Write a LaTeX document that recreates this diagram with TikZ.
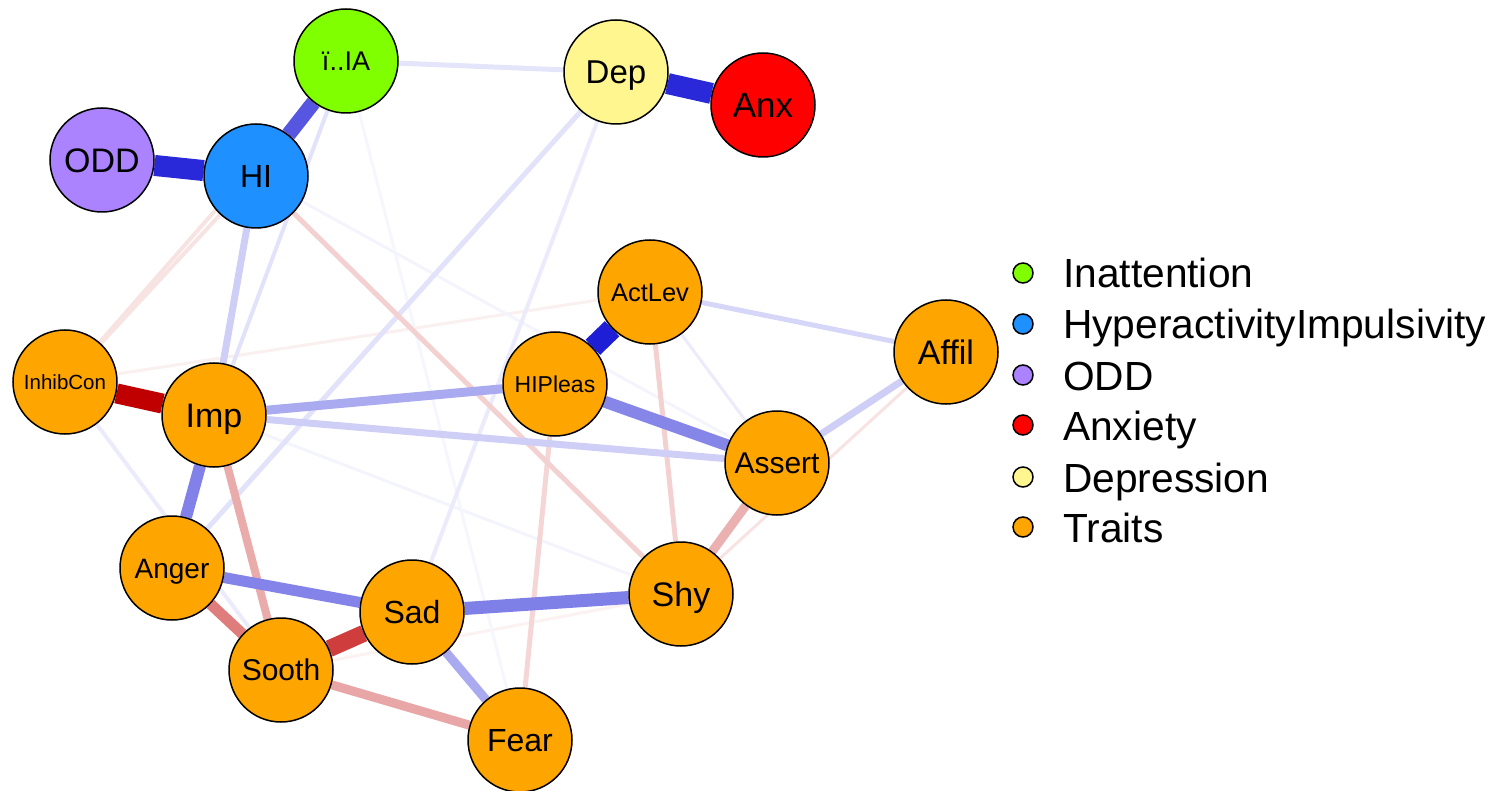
\documentclass[tikz,border=0pt]{standalone}
\usepackage{fontspec}
\setmainfont{Liberation Sans}
\usepackage{tikz}
\usetikzlibrary{shapes,backgrounds}
\usepackage{xcolor}
\definecolor{posblue}{RGB}{30,30,215}
\definecolor{negred}{RGB}{192,0,0}
\definecolor{iagreen}{RGB}{128,255,0}
\definecolor{hiblue}{RGB}{30,144,255}
\definecolor{oddpurple}{RGB}{171,130,255}
\definecolor{anxred}{RGB}{255,0,0}
\definecolor{depyellow}{RGB}{255,246,143}
\definecolor{traitorange}{RGB}{255,165,0}
\newcommand{\fs}[1]{\fontsize{#1}{#1}\selectfont}
\tikzstyle{var} = [circle, draw=black, line width=1.5pt, minimum size=104pt, inner sep=0pt, text depth=0pt]
\tikzstyle{trait} = [var, fill=traitorange]
\tikzstyle{key} = [circle, draw=black, line width=1.5pt, minimum size=20pt, inner sep=0pt]
\tikzstyle{keytext} = [anchor=base west, inner sep=0pt, font=\fs{40.7}]

\begin{document}
\begin{tikzpicture}[x=1pt, y=-1pt]
    \useasboundingbox (0,0) rectangle (1496,791);

    % Symptom nodes
    \node[var, fill=iagreen, font=\fs{27}, text height=19.5pt] (IA) at (346,61) {ï..IA};
    \node[var, fill=oddpurple, font=\fs{34}, text height=24.5pt] (ODD) at (102,160) {ODD};
    \node[var, fill=hiblue, font=\fs{32}, text height=23pt] (HI) at (256,176) {HI};
    \node[var, fill=depyellow, font=\fs{33}, text height=23.5pt] (Dep) at (616,72) {Dep};
    \node[var, fill=anxred, font=\fs{35}, text height=25pt] (Anx) at (763,105) {Anx};

    % Trait nodes
    \node[trait, font=\fs{25.5}, text height=18.3pt] (ActLev) at (650,292) {ActLev};
    \node[trait, font=\fs{23}, text height=16.5pt] (HIPleas) at (555,384) {HIPleas};
    \node[trait, font=\fs{34}, text height=24.5pt] (Affil) at (946,352) {Affil};
    \node[trait, font=\fs{20.5}, text height=14.7pt] (InhibCon) at (65,382) {InhibCon};
    \node[trait, font=\fs{34}, text height=24.5pt] (Imp) at (214,415) {Imp};
    \node[trait, font=\fs{30}, text height=21.5pt] (Assert) at (777,463) {Assert};
    \node[trait, font=\fs{28}, text height=20pt] (Anger) at (172,568) {Anger};
    \node[trait, font=\fs{30}, text height=21.5pt] (Sooth) at (281,670) {Sooth};
    \node[trait, font=\fs{32}, text height=23pt] (Sad) at (412,612) {Sad};
    \node[trait, font=\fs{34}, text height=24.5pt] (Shy) at (681,594) {Shy};
    \node[trait, font=\fs{32}, text height=23pt] (Fear) at (520,740) {Fear};

    % Edges, weakest first
    \begin{pgfonlayer}{background}
    \draw[line width=3pt, negred!5] (Sooth) -- (Shy);
    \draw[line width=3pt, negred!6] (InhibCon) -- (ActLev);
    \draw[line width=3pt, posblue!4] (IA) -- (Fear);
    \draw[line width=3pt, posblue!5] (HI) -- (Assert);
    \draw[line width=3pt, posblue!5] (Imp) -- (Shy);
    \draw[line width=3pt, negred!11] (Affil) -- (Shy);
    \draw[line width=4pt, negred!11] (HI) -- (InhibCon);
    \draw[line width=4pt, negred!11] (IA) -- (InhibCon);
    \draw[line width=3pt, posblue!9] (ActLev) -- (Assert);
    \draw[line width=4pt, posblue!9] (InhibCon) -- (Sooth);
    \draw[line width=4pt, posblue!9] (Dep) -- (Sad);
    \draw[line width=4pt, posblue!13] (IA) -- (Imp);
    \draw[line width=5pt, posblue!13] (Dep) -- (Anger);
    \draw[line width=5pt, posblue!12] (IA) -- (Dep);
    \draw[line width=5pt, negred!16] (HIPleas) -- (Fear);
    \draw[line width=5pt, negred!18] (ActLev) -- (Shy);
    \draw[line width=5pt, negred!18] (HI) -- (Shy);
    \draw[line width=5pt, posblue!18] (Affil) -- (ActLev);
    \draw[line width=7pt, posblue!22] (Affil) -- (Assert);
    \draw[line width=7pt, posblue!22] (Imp) -- (Assert);
    \draw[line width=7pt, posblue!22] (HI) -- (Imp);
    \draw[line width=9pt, negred!31] (Assert) -- (Shy);
    \draw[line width=8pt, negred!33] (Imp) -- (Sooth);
    \draw[line width=9pt, negred!35] (Sooth) -- (Fear);
    \draw[line width=9pt, posblue!38] (Sad) -- (Fear);
    \draw[line width=9pt, posblue!38] (Imp) -- (HIPleas);
    \draw[line width=11pt, negred!51] (Anger) -- (Sooth);
    \draw[line width=11pt, posblue!55] (Anger) -- (Sad);
    \draw[line width=12pt, posblue!54] (HIPleas) -- (Assert);
    \draw[line width=12pt, posblue!56] (Imp) -- (Anger);
    \draw[line width=13pt, posblue!57] (Sad) -- (Shy);
    \draw[line width=15pt, posblue!75] (HI) -- (IA);
    \draw[line width=17pt, negred!76] (Sooth) -- (Sad);
    \draw[line width=20pt, negred] (InhibCon) -- (Imp);
    \draw[line width=21pt, posblue!95] (ODD) -- (HI);
    \draw[line width=21pt, posblue!95] (Dep) -- (Anx);
    \draw[line width=21pt, posblue] (HIPleas) -- (ActLev);
    \end{pgfonlayer}

    % Legend
    \node[key, fill=iagreen] (kIA) at (1023,273) {};
    \node[key, fill=hiblue] (kHI) at (1023,324) {};
    \node[key, fill=oddpurple] (kODD) at (1023,375) {};
    \node[key, fill=anxred] (kAnx) at (1023,425) {};
    \node[key, fill=depyellow] (kDep) at (1023,477) {};
    \node[key, fill=traitorange] (kTr) at (1023,527) {};
    \node[keytext] (tIA) at (1063,288) {Inattention};
    \node[keytext] (tHI) at (1063,339) {HyperactivityImpulsivity};
    \node[keytext] (tODD) at (1063,390) {ODD};
    \node[keytext] (tAnx) at (1063,440) {Anxiety};
    \node[keytext] (tDep) at (1063,492) {Depression};
    \node[keytext] (tTr) at (1063,542) {Traits};
\end{tikzpicture}
\end{document}
